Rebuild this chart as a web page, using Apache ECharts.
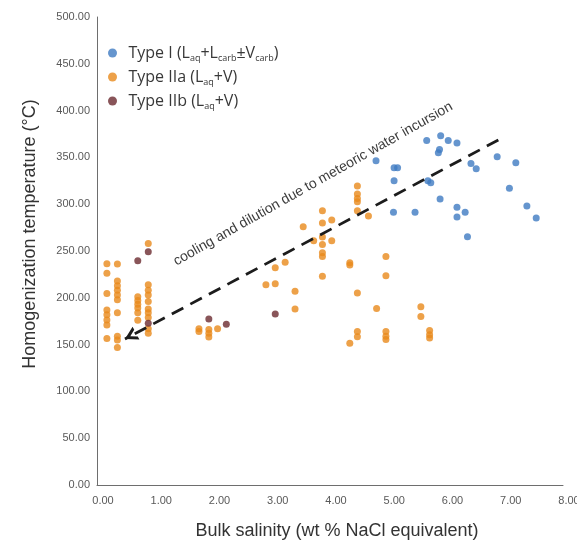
<!DOCTYPE html>
<html>
<head>
<meta charset="utf-8">
<title>Homogenization temperature vs bulk salinity</title>
<script src="https://cdn.jsdelivr.net/npm/echarts@6/dist/echarts.min.js"></script>
<style>
  html, body { margin: 0; padding: 0; background: #ffffff; }
  #chart { width: 577px; height: 545px; }
</style>
</head>
<body>
<div id="chart"></div>
<script>
// Fluid inclusion data: [bulk salinity (wt % NaCl eq.), homogenization temperature (°C)]
const typeI = [
  [4.79, 346.5], [5.10, 339], [5.16, 339], [5.10, 325], [5.09, 291.5], [5.46, 291.5],
  [5.66, 368], [5.90, 373], [6.03, 368], [6.18, 365.5], [5.88, 358.5], [5.86, 355],
  [5.68, 325], [5.73, 323], [5.89, 305.5], [6.18, 296.7], [6.18, 286.3], [6.32, 291.5],
  [6.36, 265.3], [6.42, 343.6], [6.51, 338], [6.87, 350.7], [7.08, 317], [7.19, 344.3],
  [7.38, 298], [7.54, 285.3]
];

const typeIIa = [
  [0.17, 236.5], [0.17, 226.2], [0.17, 204.5], [0.17, 187], [0.17, 182], [0.17, 176.3], [0.17, 171], [0.17, 156.5],
  [0.35, 236], [0.35, 218], [0.35, 213], [0.35, 208], [0.35, 203], [0.35, 198], [0.35, 184], [0.35, 159], [0.35, 155], [0.35, 147],
  [0.70, 201], [0.70, 197], [0.70, 193], [0.70, 189], [0.70, 184], [0.70, 176],
  [0.88, 258], [0.88, 214], [0.88, 208], [0.88, 203], [0.88, 196], [0.88, 188], [0.88, 184], [0.88, 179], [0.88, 167], [0.88, 162],
  [1.75, 167], [1.75, 164], [1.92, 166], [1.92, 162], [1.92, 158], [2.07, 167],
  [2.90, 214], [3.06, 232], [3.06, 215], [3.23, 238], [3.40, 207], [3.40, 188],
  [3.54, 276], [3.72, 261],
  [3.87, 293], [3.87, 280], [3.87, 265], [3.87, 257], [3.87, 248], [3.87, 244], [3.87, 223],
  [4.03, 283], [4.03, 261],
  [4.34, 237.5], [4.34, 235], [4.34, 151.5],
  [4.47, 319.5], [4.47, 311], [4.47, 306], [4.47, 302.5], [4.47, 293], [4.47, 205], [4.47, 164], [4.47, 158.5],
  [4.66, 287.5], [4.80, 188.5],
  [4.96, 244], [4.96, 223.5], [4.96, 164], [4.96, 159], [4.96, 155.5],
  [5.56, 190.5], [5.56, 180],
  [5.71, 165], [5.71, 160.5], [5.71, 157]
];

const typeIIb = [
  [0.70, 239.6], [0.88, 249.3], [0.88, 172.8], [1.92, 177.4], [2.22, 171.7], [3.06, 182.7]
];

// Trend arrow (start, arrow tip) in data units
const trendStart = [6.89, 368.6];
const trendEnd = [0.48, 156];

const xTicks = { min: 0, max: 8, interval: 1 };
const yTicks = { min: 0, max: 500, interval: 50 };

const seriesNames = ['Type I', 'Type IIa', 'Type IIb'];
const legendText = {
  'Type I': '{n|Type I (L}{s|aq}{n|+L}{s|carb}{n|±V}{s|carb}{n|)}',
  'Type IIa': '{n|Type IIa (L}{s|aq}{n|+V)}',
  'Type IIb': '{n|Type IIb (L}{s|aq}{n|+V)}'
};
const colors = ['#3f7bc2', '#e8891c', '#6b2a30'];

// Open chevron arrow head. Its tip sits at the centre of a 24x24 box
// (two tiny corner specks fix the box), so the tip lands on the line end.
const chevron = 'path://M0,0 L0.01,0 L0,0.01 Z M24,0 L23.99,0 L24,0.01 Z ' +
  'M12,12 L19,24 L15.6,24 L12,17.8 L8.4,24 L5,24 Z';

const chart = echarts.init(document.getElementById('chart'), null, { renderer: 'canvas' });

const axisLabelStyle = {
  color: '#595959',
  fontFamily: 'Liberation Sans, Arial, sans-serif',
  fontSize: 11,
  formatter: v => v.toFixed(2)
};

chart.setOption({
  animation: false,
  backgroundColor: '#ffffff',
  color: colors,
  grid: { left: 97, right: 14, top: 17, bottom: 60, containLabel: false, outerBoundsMode: 'none' },
  xAxis: {
    type: 'value',
    min: xTicks.min, max: xTicks.max, interval: xTicks.interval,
    axisLine: { show: true, lineStyle: { color: '#6e6e6e', width: 1 } },
    axisTick: { show: false },
    splitLine: { show: false },
    axisLabel: Object.assign({}, axisLabelStyle, { margin: 10, padding: [0, 0, 0, 12] })
  },
  yAxis: {
    type: 'value',
    min: yTicks.min, max: yTicks.max, interval: yTicks.interval,
    axisLine: { show: true, lineStyle: { color: '#6e6e6e', width: 1 } },
    axisTick: { show: false },
    splitLine: { show: false },
    axisLabel: Object.assign({}, axisLabelStyle, { margin: 7 })
  },
  legend: {
    data: seriesNames,
    orient: 'vertical',
    left: 108,
    top: 43,
    padding: 0,
    itemGap: 4,
    itemWidth: 22,
    itemHeight: 9,
    icon: 'circle',
    formatter: name => legendText[name],
    textStyle: {
      lineHeight: 20,
      rich: {
        n: { fontFamily: 'Open Sans, sans-serif', fontSize: 16, color: '#383838', lineHeight: 20 },
        s: { fontFamily: 'Open Sans, sans-serif', fontSize: 9, color: '#383838', verticalAlign: 'bottom', lineHeight: 12 }
      }
    }
  },
  graphic: [
    {
      type: 'text',
      x: 30, y: 234,
      rotation: Math.PI / 2,
      style: {
        text: 'Homogenization temperature (°C)',
        font: '18px "Liberation Sans", Arial, sans-serif',
        fill: '#333333',
        textAlign: 'center',
        textVerticalAlign: 'middle'
      }
    },
    {
      type: 'text',
      x: 337, y: 531,
      style: {
        text: 'Bulk salinity (wt % NaCl equivalent)',
        font: '18px "Liberation Sans", Arial, sans-serif',
        fill: '#333333',
        textAlign: 'center',
        textVerticalAlign: 'middle'
      }
    },
    {
      type: 'text',
      x: 313, y: 184,
      rotation: 29.5 * Math.PI / 180,
      style: {
        text: 'cooling and dilution due to meteoric water incursion',
        font: '14px "Liberation Sans", Arial, sans-serif',
        fill: '#3c3c3c',
        textAlign: 'center',
        textVerticalAlign: 'middle'
      }
    }
  ],
  series: [
    {
      name: 'Type I', type: 'scatter', data: typeI,
      symbolSize: 7, itemStyle: { color: colors[0] }
    },
    {
      name: 'Type IIa', type: 'scatter', data: typeIIa,
      symbolSize: 7, itemStyle: { color: colors[1] }
    },
    {
      name: 'Type IIb', type: 'scatter', data: typeIIb,
      symbolSize: 7, itemStyle: { color: colors[2] }
    },
    {
      name: 'trend', type: 'scatter', data: [],
      markLine: {
        silent: true,
        animation: false,
        label: { show: false },
        lineStyle: { color: '#1c1c1c', width: 2.8, type: [13, 8] },
        data: [[
          { coord: trendStart, symbol: 'none' },
          { coord: trendEnd, symbol: chevron, symbolSize: 25 }
        ]]
      }
    }
  ]
});
</script>
</body>
</html>
